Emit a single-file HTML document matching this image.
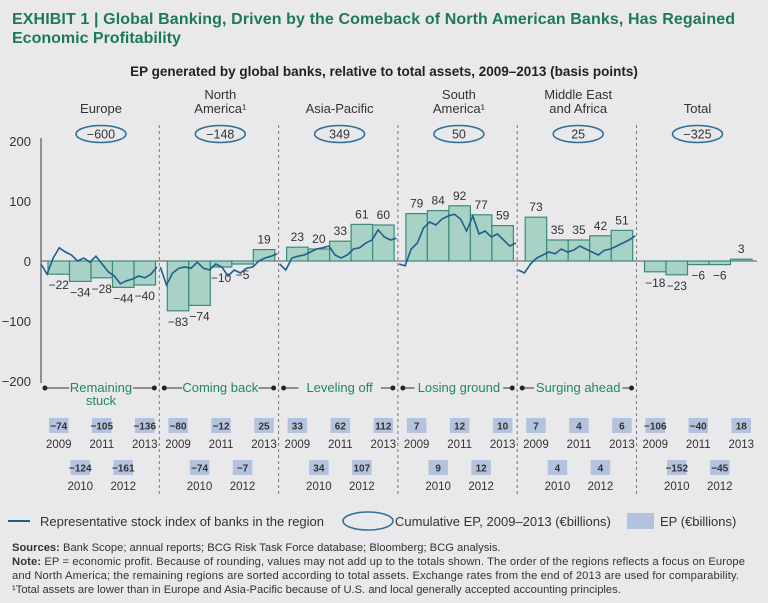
<!DOCTYPE html>
<html><head><meta charset="utf-8"><style>
html,body{margin:0;padding:0;background:#e9e9eb;}
body{width:768px;height:603px;overflow:hidden;font-family:"Liberation Sans",sans-serif;}
svg{display:block}
</style></head><body>
<svg id="c" width="768" height="603" xmlns="http://www.w3.org/2000/svg">
<rect width="768" height="603" fill="#e9e9eb"/>
<text x="12" y="24" font-size="16" font-weight="bold" fill="#1e7a55" textLength="723">EXHIBIT 1 | Global Banking, Driven by the Comeback of North American Banks, Has Regained</text>
<text x="12" y="43" font-size="16" font-weight="bold" fill="#1e7a55">Economic Profitability</text>
<text x="384" y="76" font-size="13.5" font-weight="bold" fill="#222" text-anchor="middle">EP generated by global banks, relative to total assets, 2009–2013 (basis points)</text>
<g id="g"></g>
<g>
<line x1="8" y1="521" x2="30" y2="521" stroke="#1f5f8f" stroke-width="2"/>
<text x="40" y="526" font-size="13" fill="#333">Representative stock index of banks in the region</text>
<ellipse cx="368" cy="521" rx="25" ry="9" fill="none" stroke="#2f6f98" stroke-width="1.5"/>
<text x="395" y="526" font-size="13" fill="#333">Cumulative EP, 2009–2013 (€billions)</text>
<rect x="627" y="513" width="27" height="16" fill="#b3c3dd"/>
<text x="660" y="526" font-size="13" fill="#333">EP (€billions)</text>
</g>
<g font-size="11.2" fill="#333">
<text x="12" y="551"><tspan font-weight="bold">Sources:</tspan> Bank Scope; annual reports; BCG Risk Task Force database; Bloomberg; BCG analysis.</text>
<text x="12" y="565" textLength="733"><tspan font-weight="bold">Note:</tspan> EP = economic profit. Because of rounding, values may not add up to the totals shown. The order of the regions reflects a focus on Europe</text>
<text x="12" y="579" textLength="727">and North America; the remaining regions are sorted according to total assets. Exchange rates from the end of 2013 are used for comparability.</text>
<text x="12" y="593">¹Total assets are lower than in Europe and Asia-Pacific because of U.S. and local generally accepted accounting principles.</text>
</g>
</svg>
<script>
const regions=["Europe","North America","Asia-Pacific","South America","Middle East and Africa","Total"];
const cumulative=["−600","−148","349","50","25","−325"];
const bpValues=[[-22,-34,-28,-44,-40],[-83,-74,-10,-5,19],[23,20,33,61,60],[79,84,92,77,59],[73,35,35,42,51],[-18,-23,-6,-6,3]];
const epValues=[[-74,-124,-105,-161,-136],[-80,-74,-12,-7,25],[33,34,62,107,112],[7,9,12,12,10],[7,4,4,4,6],[-106,-152,-40,-45,18]];
const years=["2009","2010","2011","2012","2013"];
const phases=["Remaining|stuck","Coming back","Leveling off","Losing ground","Surging ahead"];
const stock=[
[-5,-22,5,22,15,10,0,5,-2,8,-5,-18,-25,-38,-33,-30,-25,-28,-22,-10],
[-10,-40,-20,-12,-10,-12,-2,-12,-15,-5,-10,-25,-15,-20,-12,-10,0,5,8,12],
[-5,-15,5,8,10,15,20,22,25,10,5,10,20,22,30,35,52,40,35,38],
[-5,-8,20,30,55,65,60,70,75,78,70,50,75,45,50,40,45,35,25,30],
[-15,-20,-5,5,10,15,12,20,15,18,25,20,15,10,18,20,25,30,35,42]];
const yTicks=[200,100,0,-100,-200];
const NS="http://www.w3.org/2000/svg",g=document.getElementById('g');
const y=v=>261-v*0.6, regL=i=>41+i*119.3, barX=(i,j)=>regL(i)+7+j*21.5, BW=21.5;
function mk(t,a,txt){const e=document.createElementNS(NS,t);for(const k in a)e.setAttribute(k,a[k]);if(txt!==undefined)e.textContent=txt;g.appendChild(e);return e;}
const neg=v=>v<0?"−"+(-v):""+v;
let ax=mk('line',{x1:41,y1:138,x2:41,y2:383,stroke:'#555','stroke-width':1.2});


yTicks.forEach(t=>{let e=mk('text',{x:31,y:y(t)+5,'font-size':13,fill:'#333','text-anchor':'end'},neg(t));

});
let zl=mk('line',{x1:41,y1:y(0),x2:757,y2:y(0),stroke:'#555','stroke-width':1});


for(let i=1;i<6;i++){let s=mk('line',{x1:regL(i)-1,y1:125,x2:regL(i)-1,y2:495,stroke:'#777','stroke-width':1,'stroke-dasharray':'3,3'});

}
regions.forEach((r,i)=>{
 const cx=regL(i)+60;
 const lines=r==="North America"?["North","America¹"]:r==="South America"?["South","America¹"]:r==="Middle East and Africa"?["Middle East","and Africa"]:[r];
 lines.forEach((l,k)=>{let e=mk('text',{x:cx,y:113-(lines.length-1-k)*14,'font-size':13,fill:'#333','text-anchor':'middle'},l);
 
 });
 let o=mk('ellipse',{cx:cx,cy:134,rx:25,ry:8.5,fill:'none',stroke:'#2f6f98','stroke-width':1.5});
 
 
 let ot=mk('text',{x:cx,y:138.5,'font-size':12.5,fill:'#333','text-anchor':'middle'},cumulative[i]);
 
 
 bpValues[i].forEach((v,j)=>{
  const x=barX(i,j);
  let b=mk('rect',{x:x,y:Math.min(y(v),y(0)),width:BW,height:Math.abs(y(v)-y(0)),fill:'#a8d2c5',stroke:'#3b8a7c','stroke-width':1.2});
  
  
  let lt=mk('text',{x:x+BW/2,y:v>=0?y(v)-6:y(v)+15,'font-size':12,fill:'#333','text-anchor':'middle'},neg(v));
  
  
  const by=j%2===0?418:460;
  let eb=mk('rect',{x:x+1,y:by,width:BW-2,height:15,fill:'#b3c3dd'});
  
  
  let et=mk('text',{x:x+BW/2,y:by+11.5,'font-size':10,'font-weight':'bold',fill:'#333','text-anchor':'middle'},neg(epValues[i][j]));
  
  
  let yt=mk('text',{x:x+BW/2,y:by+30,'font-size':11.5,fill:'#333','text-anchor':'middle'},years[j]);
  
  
 });
 if(i<5){
  const s=stock[i],x0=regL(i),w=(i===0?116:117);
  let d=s.map((v,k)=>(k?'L':'M')+(x0+k*w/(s.length-1)).toFixed(1)+','+y(v).toFixed(1)).join('');
  let p=mk('path',{d:d,fill:'none',stroke:'#1f5f8f','stroke-width':1.6});
  
  
  const pl=phases[i].split('|'),L=regL(i)+4,R=regL(i+1)-6;
  [L,R].forEach(px=>{let c=mk('circle',{cx:px,cy:388,r:2.5,fill:'#222'});
  
  });
  const tw=pl[0].length*6.2;
  let l1=mk('line',{x1:L,y1:388,x2:x0+60-tw/2-4,y2:388,stroke:'#333'});
  
  
  let l2=mk('line',{x1:x0+60+tw/2+4,y1:388,x2:R,y2:388,stroke:'#333'});
  
  
  pl.forEach((t,k)=>{let e=mk('text',{x:x0+60,y:392+k*13,'font-size':13,fill:'#1e8a5a','text-anchor':'middle'},t);
  
  });
 }
});
</script>
</body></html>
